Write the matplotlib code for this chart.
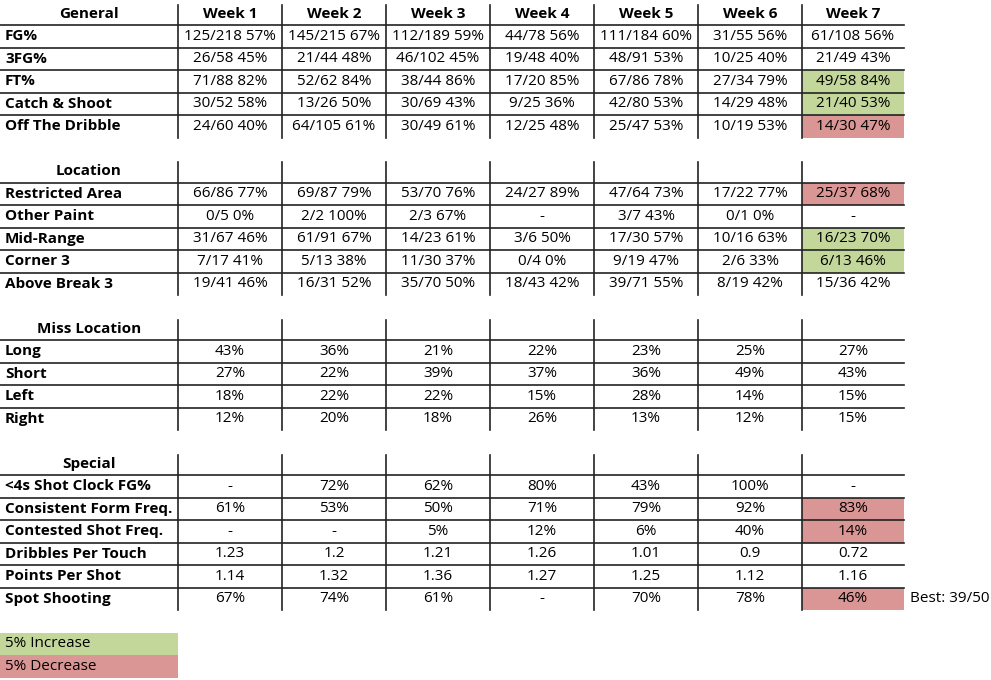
import matplotlib
matplotlib.use("Agg")
import matplotlib.pyplot as plt

weeks = ["Week 1", "Week 2", "Week 3", "Week 4", "Week 5", "Week 6", "Week 7"]

general_rows = ["FG%", "3FG%", "FT%", "Catch & Shoot", "Off The Dribble"]
general_vals = [
    ["125/218 57%", "145/215 67%", "112/189 59%", "44/78 56%", "111/184 60%", "31/55 56%", "61/108 56%"],
    ["26/58 45%", "21/44 48%", "46/102 45%", "19/48 40%", "48/91 53%", "10/25 40%", "21/49 43%"],
    ["71/88 82%", "52/62 84%", "38/44 86%", "17/20 85%", "67/86 78%", "27/34 79%", "49/58 84%"],
    ["30/52 58%", "13/26 50%", "30/69 43%", "9/25 36%", "42/80 53%", "14/29 48%", "21/40 53%"],
    ["24/60 40%", "64/105 61%", "30/49 61%", "12/25 48%", "25/47 53%", "10/19 53%", "14/30 47%"],
]
location_rows = ["Restricted Area", "Other Paint", "Mid-Range", "Corner 3", "Above Break 3"]
location_vals = [
    ["66/86 77%", "69/87 79%", "53/70 76%", "24/27 89%", "47/64 73%", "17/22 77%", "25/37 68%"],
    ["0/5 0%", "2/2 100%", "2/3 67%", "-", "3/7 43%", "0/1 0%", "-"],
    ["31/67 46%", "61/91 67%", "14/23 61%", "3/6 50%", "17/30 57%", "10/16 63%", "16/23 70%"],
    ["7/17 41%", "5/13 38%", "11/30 37%", "0/4 0%", "9/19 47%", "2/6 33%", "6/13 46%"],
    ["19/41 46%", "16/31 52%", "35/70 50%", "18/43 42%", "39/71 55%", "8/19 42%", "15/36 42%"],
]
miss_rows = ["Long", "Short", "Left", "Right"]
miss_vals = [
    ["43%", "36%", "21%", "22%", "23%", "25%", "27%"],
    ["27%", "22%", "39%", "37%", "36%", "49%", "43%"],
    ["18%", "22%", "22%", "15%", "28%", "14%", "15%"],
    ["12%", "20%", "18%", "26%", "13%", "12%", "15%"],
]
special_rows = ["<4s Shot Clock FG%", "Consistent Form Freq.", "Contested Shot Freq.",
                "Dribbles Per Touch", "Points Per Shot", "Spot Shooting"]
special_vals = [
    ["-", "72%", "62%", "80%", "43%", "100%", "-"],
    ["61%", "53%", "50%", "71%", "79%", "92%", "83%"],
    ["-", "-", "5%", "12%", "6%", "40%", "14%"],
    ["1.23", "1.2", "1.21", "1.26", "1.01", "0.9", "0.72"],
    ["1.14", "1.32", "1.36", "1.27", "1.25", "1.12", "1.16"],
    ["67%", "74%", "61%", "-", "70%", "78%", "46%"],
]

# week 7 highlights: (section, row) -> colour
GREEN = "#c4d79b"
RED = "#da9694"
highlights = {
    ("General", 2): GREEN, ("General", 3): GREEN, ("General", 4): RED,
    ("Location", 0): RED, ("Location", 2): GREEN, ("Location", 3): GREEN,
    ("Special", 1): RED, ("Special", 2): RED, ("Special", 5): RED,
}

sections = [
    ("General", general_rows, general_vals, True),
    ("Location", location_rows, location_vals, False),
    ("Miss Location", miss_rows, miss_vals, False),
    ("Special", special_rows, special_vals, False),
]

W, H = 991, 680
fig = plt.figure(figsize=(W / 100, H / 100), dpi=100)
ax = fig.add_axes([0, 0, 1, 1])
ax.set_xlim(0, W)
ax.set_ylim(H, 0)
ax.axis("off")

plt.rcParams["font.family"] = ["Open Sans", "DejaVu Sans"]
FS = 11
row_h = 22.5
y0 = 2.5
col_x = [178 + 104 * i for i in range(8)]
col_x[-1] = 904

row = 0
for name, labels, vals, show_weeks in sections:
    top = y0 + row * row_h
    n = len(labels) + 1
    # header
    ax.text(89, top + row_h / 2, name, ha="center", va="center", fontsize=FS, fontweight="bold")
    if show_weeks:
        for j, wk in enumerate(weeks):
            ax.text((col_x[j] + col_x[j + 1]) / 2, top + row_h / 2, wk, ha="center", va="center",
                    fontsize=FS, fontweight="bold")
    for i, lab in enumerate(labels):
        yt = top + (i + 1) * row_h
        c = highlights.get((name, i))
        if c:
            ax.add_patch(plt.Rectangle((col_x[6], yt), col_x[7] - col_x[6], row_h, color=c, lw=0))
        ax.text(5, yt + row_h / 2, lab, ha="left", va="center", fontsize=FS, fontweight="bold")
        for j, v in enumerate(vals[i]):
            ax.text((col_x[j] + col_x[j + 1]) / 2, yt + row_h / 2, v, ha="center", va="center", fontsize=FS)
        ax.plot([0, col_x[7]], [yt, yt], color="#222222", lw=1.2)
    for x in col_x[:7]:
        ax.plot([x, x], [top + 2, top + n * row_h], color="#222222", lw=1.2)
    row += n + 1

# spot shooting note
spot_y = y0 + (row - 2) * row_h + row_h / 2
ax.text(910, spot_y, "Best: 39/50", ha="left", va="center", fontsize=FS)

# legend
for k, (txt, c) in enumerate([("5% Increase", GREEN), ("5% Decrease", RED)]):
    yt = y0 + (row + k) * row_h
    ax.add_patch(plt.Rectangle((0, yt), 178, row_h, color=c, lw=0))
    ax.text(5, yt + row_h / 2, txt, ha="left", va="center", fontsize=FS)

fig.savefig("out.png", dpi=100, facecolor="white")
